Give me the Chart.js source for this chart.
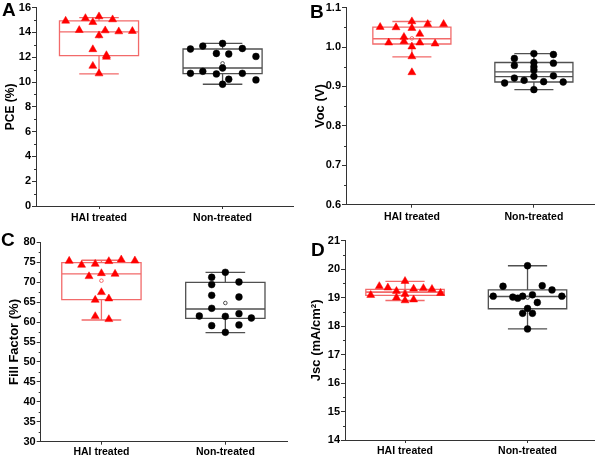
<!DOCTYPE html>
<html><head><meta charset="utf-8">
<script src="https://cdn.jsdelivr.net/npm/chart.js@4.4.1/dist/chart.umd.min.js"></script>
<style>
html,body{margin:0;padding:0;background:#fff;}
#wrap{position:relative;width:600px;height:458px;overflow:hidden;}
.q{position:absolute;width:300px;height:229px;}
.lbl{position:absolute;font:bold 19px 'Liberation Sans',Arial,sans-serif;color:#000;line-height:19px;}
</style></head>
<body><div id="wrap">
<div class="q" style="left:0;top:0"><canvas id="cA"></canvas></div>
<div class="q" style="left:300px;top:0"><canvas id="cB"></canvas></div>
<div class="q" style="left:0;top:229px"><canvas id="cC"></canvas></div>
<div class="q" style="left:300px;top:229px"><canvas id="cD"></canvas></div>
<div class="lbl" style="left:2px;top:0px">A</div>
<div class="lbl" style="left:310px;top:2px">B</div>
<div class="lbl" style="left:1px;top:230px">C</div>
<div class="lbl" style="left:311px;top:240px">D</div>
</div>
<script>
// ---------- data ----------
const categories = ['HAI treated', 'Non-treated'];

// PCE (%)
const pceHAI = [14.93, 15.14, 15.28, 14.82, 15.04, 14.18, 13.75, 14.15, 14.07, 14.10, 12.63, 12.15, 12.02, 11.29, 10.68];
const pceHAIjitter = [-0.27, -0.11, 0, -0.05, 0.11, -0.16, 0, 0.05, 0.16, 0.27, -0.05, 0.06, 0.06, -0.05, 0];
const pceNon = [12.66, 12.90, 13.11, 12.30, 12.26, 12.70, 12.06, 10.70, 10.86, 10.65, 11.13, 10.22, 10.70, 10.17, 9.82];
const pceNonJitter = [-0.26, -0.16, 0, -0.05, 0.05, 0.16, 0.27, -0.26, -0.16, -0.05, 0, 0.05, 0.16, 0.27, 0];
// box stats: [lower whisker, Q1, median, Q3, upper whisker, mean]
const pceBoxHAI = [10.65, 12.12, 14.05, 14.93, 15.19, 13.7];
const pceBoxNon = [9.82, 10.68, 11.13, 12.66, 13.11, 11.5];

// Voc (V)
const vocHAI = [1.0505, 1.0497, 1.0648, 1.048, 1.058, 1.058, 1.0253, 1.033, 1.011, 1.0144, 1.001, 1.011, 1.0085, 0.976, 0.9356];
const vocHAIjitter = [-0.26, -0.13, 0, 0, 0.13, 0.26, -0.065, 0.065, -0.19, -0.065, 0, 0.065, 0.19, 0, 0];
const vocNon = [0.9709, 0.9532, 0.9834, 0.9608, 0.9498, 0.9414, 0.981, 0.959, 0.9087, 0.9213, 0.9155, 0.9256, 0.912, 0.927, 0.9112, 0.8919];
const vocNonJitter = [-0.16, -0.16, 0, 0, 0, 0, 0.16, 0.16, -0.24, -0.16, -0.08, 0, 0.08, 0.16, 0.24, 0];
const vocBoxHAI = [0.975, 1.0077, 1.021, 1.0505, 1.0648, 1.022];
const vocBoxNon = [0.892, 0.9112, 0.9247, 0.9607, 0.9834, 0.937];

// Fill Factor (%)
const ffHAI = [75.32, 74.31, 74.56, 75.24, 75.65, 75.40, 71.47, 72.22, 72.06, 67.46, 65.54, 65.87, 61.44, 60.69];
const ffHAIjitter = [-0.26, -0.16, -0.05, 0.06, 0.16, 0.27, -0.1, 0, 0.11, 0, -0.05, 0.06, -0.05, 0.06];
const ffNon = [72.48, 71.23, 69.39, 70.05, 66.71, 66.29, 63.45, 61.52, 61.44, 62.10, 61.02, 59.10, 59.27, 57.43];
const ffNonJitter = [0, -0.11, -0.11, 0.11, -0.11, 0.11, -0.11, -0.21, 0, 0.11, 0.21, -0.11, 0.11, 0];
const ffBoxHAI = [60.52, 65.62, 72.06, 74.9, 75.5, 70.38];
const ffBoxNon = [57.34, 60.94, 63.28, 69.97, 72.47, 64.78];

// Jsc (mA/cm2)
const jscHAI = [19.09, 19.40, 19.35, 19.23, 19.58, 19.31, 19.33, 19.30, 19.16, 19.00, 19.12, 18.90, 18.93];
const jscHAIjitter = [-0.28, -0.21, -0.14, -0.07, 0, 0.07, 0.15, 0.22, 0.29, -0.07, 0, 0, 0.07];
const jscNon = [20.12, 19.40, 19.42, 19.27, 19.05, 19.02, 18.98, 19.05, 19.10, 19.05, 18.83, 18.62, 18.45, 18.45, 17.90];
const jscNonJitter = [0, -0.2, 0.12, 0.2, -0.28, -0.12, -0.08, -0.04, 0.04, 0.28, 0.08, 0, -0.04, 0.04, 0];
const jscBoxHAI = [18.90, 19.08, 19.19, 19.29, 19.57, 19.2];
const jscBoxNon = [17.90, 18.61, 19.04, 19.27, 20.12, 19.0];

// axis tick settings
const pceTicks = {min: 0, max: 16, step: 2};
const vocTicks = {min: 0.6, max: 1.1, step: 0.1};
const ffTicks = {min: 30, max: 80, step: 5};
const jscTicks = {min: 14, max: 21, step: 1};

// ---------- styles ----------
const FONT = "'Liberation Sans', Arial, sans-serif";
const RED = '#ff0000';
const RED_BOX = '#f26a6a';
const GRAY_BOX = '#505050';
const AX = '#333333';
const BOX_HALF = 0.32, CAP_HALF = 0.16;

const boxPlugin = {
  id: 'boxes',
  beforeDatasetsDraw(chart, args, opts) {
    const {ctx} = chart;
    const x = chart.scales.x, y = chart.scales.y;
    (opts.items || []).forEach(b => {
      const [lo, q1, med, q3, hi, mean] = b.stats;
      const c = b.pos;
      const xl = x.getPixelForValue(c - BOX_HALF), xr = x.getPixelForValue(c + BOX_HALF);
      const cl = x.getPixelForValue(c - CAP_HALF), cr = x.getPixelForValue(c + CAP_HALF);
      const xc = x.getPixelForValue(c);
      ctx.save();
      ctx.strokeStyle = b.color; ctx.lineWidth = 1.3;
      ctx.beginPath();
      ctx.rect(xl, y.getPixelForValue(q3), xr - xl, y.getPixelForValue(q1) - y.getPixelForValue(q3));
      const hl = (v, a, z) => { const py = y.getPixelForValue(v); ctx.moveTo(a, py); ctx.lineTo(z, py); };
      hl(med, xl, xr);
      if (b.meanLine) hl(mean, xl, xr);
      hl(hi, cl, cr); hl(lo, cl, cr);
      ctx.moveTo(xc, y.getPixelForValue(q3)); ctx.lineTo(xc, y.getPixelForValue(hi));
      ctx.moveTo(xc, y.getPixelForValue(q1)); ctx.lineTo(xc, y.getPixelForValue(lo));
      ctx.stroke();
      ctx.beginPath(); ctx.lineWidth = 1;
      ctx.arc(xc, y.getPixelForValue(mean), 1.8, 0, Math.PI * 2);
      ctx.stroke();
      ctx.restore();
    });
  },
  afterDraw(chart, args, opts) {
    // minor ticks on y axis
    const {ctx} = chart; const y = chart.scales.y;
    const t = opts.ticks; if (!t) return;
    ctx.save(); ctx.strokeStyle = AX; ctx.lineWidth = 1;
    ctx.beginPath();
    const n = Math.round((t.max - t.min) / t.step);
    for (let i = 0; i < n; i++) {
      const v = t.min + (i + 0.5) * t.step;
      const py = Math.round(y.getPixelForValue(v)) + 0.5;
      ctx.moveTo(y.right - 2, py); ctx.lineTo(y.right, py);
    }
    ctx.stroke(); ctx.restore();
  }
};

function pts(vals, jit, pos) { return vals.map((v, i) => ({x: pos + jit[i], y: v})); }

function makeChart(id, cfg) {
  const L = cfg.layout;
  return new Chart(document.getElementById(id), {
    type: 'scatter',
    data: {
      datasets: [
        {data: pts(cfg.hai, cfg.haiJ, 1), pointStyle: 'triangle', pointRadius: 4.6, backgroundColor: RED, borderColor: RED, borderWidth: 0.5},
        {data: pts(cfg.non, cfg.nonJ, 2), pointStyle: 'circle', pointRadius: 3.4, backgroundColor: '#000', borderColor: '#000', borderWidth: 0.5}
      ]
    },
    options: {
      responsive: true, maintainAspectRatio: false, animation: false,
      layout: {padding: {top: L.top, right: L.right, left: 0, bottom: 0}},
      plugins: {
        legend: {display: false}, tooltip: {enabled: false},
        boxes: {
          ticks: cfg.ticks,
          items: [
            {pos: 1, stats: cfg.boxHAI, color: RED_BOX, meanLine: cfg.meanLineHAI},
            {pos: 2, stats: cfg.boxNon, color: GRAY_BOX, meanLine: cfg.meanLineNon}
          ]
        }
      },
      scales: {
        x: {
          type: 'linear', min: L.xMin, max: L.xMax,
          afterBuildTicks: s => { s.ticks = [{value: 1}, {value: 2}]; },
          afterFit: s => { s.height = L.xH; },
          ticks: {callback: v => categories[Math.round(v) - 1], font: {family: FONT, size: 10.5, weight: 'bold'}, color: '#000', padding: L.xPad, autoSkip: false, maxRotation: 0},
          grid: {drawOnChartArea: false, tickLength: 3, color: AX},
          border: {color: AX, width: 1}
        },
        y: {
          min: cfg.ticks.min, max: cfg.ticks.max,
          afterBuildTicks: s => { const t = cfg.ticks; const arr = []; const n = Math.round((t.max - t.min) / t.step); for (let i = 0; i <= n; i++) arr.push({value: +(t.min + i * t.step).toFixed(6)}); s.ticks = arr; },
          afterFit: s => { s.width = L.yW; },
          ticks: {callback: v => cfg.fmt(v), font: {family: FONT, size: 11, weight: 'bold'}, color: '#000', padding: 1},
          grid: {drawOnChartArea: false, tickLength: 4, color: AX},
          border: {color: AX, width: 1},
          title: {display: true, text: cfg.title, font: {family: FONT, size: L.titleSize, weight: 'bold'}, color: '#000', padding: {top: L.titlePad, bottom: 0}}
        }
      }
    },
    plugins: [boxPlugin]
  });
}

makeChart('cA', {hai: pceHAI, haiJ: pceHAIjitter, non: pceNon, nonJ: pceNonJitter, boxHAI: pceBoxHAI, boxNon: pceBoxNon,
  ticks: pceTicks, fmt: v => String(v), title: 'PCE (%)',
  layout: {top: 7, right: 7, xMin: 0.49, xMax: 2.57, xH: 23, xPad: 3, yW: 36, titleSize: 12, titlePad: 3}});
makeChart('cB', {hai: vocHAI, haiJ: vocHAIjitter, non: vocNon, nonJ: vocNonJitter, boxHAI: vocBoxHAI, boxNon: vocBoxNon, meanLineNon: true,
  ticks: vocTicks, fmt: v => v.toFixed(1), title: 'Voc (V)',
  layout: {top: 6, right: 2, xMin: 0.46, xMax: 2.5, xH: 24.3, xPad: 3, yW: 46, titleSize: 13, titlePad: 12.7}});
makeChart('cC', {hai: ffHAI, haiJ: ffHAIjitter, non: ffNon, nonJ: ffNonJitter, boxHAI: ffBoxHAI, boxNon: ffBoxNon,
  ticks: ffTicks, fmt: v => String(v), title: 'Fill Factor (%)',
  layout: {top: 13.3, right: 12.7, xMin: 0.51, xMax: 2.5, xH: 16.3, xPad: 1, yW: 40.7, titleSize: 13, titlePad: 6.2}});
makeChart('cD', {hai: jscHAI, haiJ: jscHAIjitter, non: jscNon, nonJ: jscNonJitter, boxHAI: jscBoxHAI, boxNon: jscBoxNon, meanLineHAI: true,
  ticks: jscTicks, fmt: v => String(v), title: ['Jsc (mA/cm²)'],
  layout: {top: 11.7, right: 2, xMin: 0.51, xMax: 2.55, xH: 18, xPad: 2, yW: 45, titleSize: 13, titlePad: 8.7}});
</script>
</body></html>
